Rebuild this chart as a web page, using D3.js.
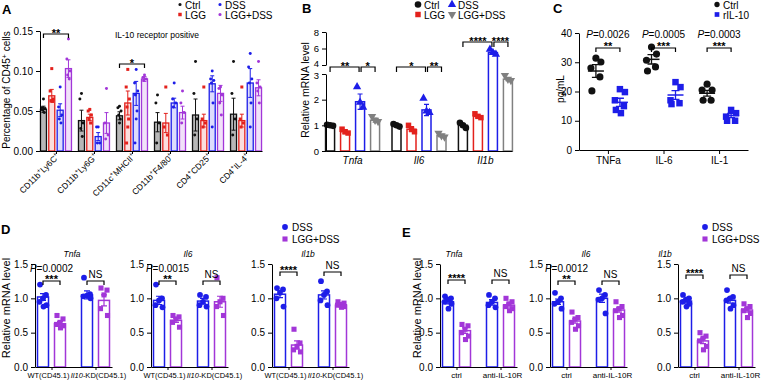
<!DOCTYPE html>
<html><head><meta charset="utf-8">
<script src="https://cdn.jsdelivr.net/npm/d3@7"></script>
<style>body{margin:0;background:#fff} text{font-family:Arial,"Liberation Sans",sans-serif}</style>
</head><body><script>
// ---------------- DATA ----------------
// Panel A
const aCategories = [
  [["CD11b",0],["+",1],["Ly6C",0],["+",1]],
  [["CD11b",0],["+",1],["Ly6G",0],["+",1]],
  [["CD11c",0],["+",1],["MHCII",0],["+",1]],
  [["CD11b",0],["+",1],["F4/80",0],["+",1]],
  [["CD4",0],["+",1],["CD25",0],["+",1]],
  [["CD4",0],["+",1],["IL-4",0],["+",1]]
];
const aSeries = ["Ctrl","LGG","DSS","LGG+DSS"];
const aCtrl   = [0.052,0.038,0.044,0.036,0.045,0.046];
const aLGG    = [0.069,0.042,0.060,0.035,0.038,0.038];
const aDSS    = [0.051,0.018,0.072,0.060,0.084,0.085];
const aLGGDSS = [0.103,0.035,0.090,0.048,0.072,0.079];
const aCtrlSem   = [0.004,0.013,0.005,0.012,0.020,0.020];
const aLGGSem    = [0.008,0.004,0.015,0.012,0.008,0.008];
const aDSSSem    = [0.008,0.005,0.015,0.006,0.010,0.018];
const aLGGDSSSem = [0.011,0.013,0.003,0.008,0.010,0.010];
const aCtrlPts   = [[0.065,0.054,0.053,0.051,0.048],[0.072,0.065,0.035,0.028,0.018],[0.056,0.054,0.050,0.045,0.040,0.035],[0.070,0.060,0.035,0.010],[0.112,0.072,0.040,0.020],[0.112,0.072,0.040,0.020]];
const aLGGPts    = [[0.103,0.075,0.065,0.063,0.062],[0.052,0.050,0.045,0.040,0.035],[0.102,0.080,0.065,0.055,0.040,0.030,0.010],[0.080,0.030,0.020],[0.080,0.040,0.035,0.030],[0.080,0.040,0.035,0.030]];
const aDSSPts    = [[0.080,0.055,0.045,0.040,0.035],[0.030,0.030,0.010,0.010],[0.102,0.085,0.075,0.070,0.050,0.040,0.010],[0.085,0.065,0.060,0.055],[0.100,0.090,0.088,0.085,0.060,0.030],[0.122,0.105,0.090,0.085,0.060,0.030]];
const aLGGDSSPts = [[0.140,0.115,0.100,0.095,0.090],[0.078,0.035,0.020,0.015],[0.095,0.092,0.090,0.088],[0.075,0.060,0.048,0.035],[0.080,0.078,0.070,0.060,0.045],[0.112,0.085,0.080,0.075,0.060]];
const aTicks = [0,0.05,0.10,0.15];

// Panel B
const bGenes = ["Tnfa","Il6","Il1b"];
const bSeries = ["Ctrl","LGG","DSS","LGG+DSS"];
const bCtrl   = [1.00,1.00,1.00];
const bLGG    = [0.75,0.85,1.35];
const bDSS    = [1.92,1.60,5.50];
const bLGGDSS = [1.20,0.60,2.80];
const bCtrlSem   = [0.03,0.04,0.06];
const bLGGSem    = [0.07,0.10,0.06];
const bDSSSem    = [0.30,0.22,0.20];
const bLGGDSSSem = [0.08,0.05,0.06];
const bCtrlPts   = [[1.02,1.00,0.98],[1.05,1.00,0.95],[1.10,1.00,0.90]];
const bLGGPts    = [[0.85,0.75,0.70],[1.00,0.85,0.75],[1.45,1.35,1.30]];
const bDSSPts    = [[2.50,1.90,1.70],[2.05,1.55,1.50],[5.90,5.50,5.30]];
const bLGGDSSPts = [[1.35,1.20,1.15],[0.70,0.60,0.55],[2.95,2.80,2.75]];
const bLowTicks = [0,1,2,3];
const bHighTicks = [4,6,8];

// Panel C
const cCytokines = ["TNFa","IL-6","IL-1"];
const cCtrlMean = [27.0,31.0,19.4];
const cRilMean  = [16.3,18.8,11.8];
const cCtrlSem  = [2.2,1.6,1.0];
const cRilSem   = [1.4,1.5,0.7];
const cCtrlPts  = [[31.4,30.1,28.0,25.0,20.2],[35.2,32.8,30.7,28.4,27.0],[22.5,20.5,20.5,17.0,17.0]];
const cRilPts   = [[20.8,19.8,17.0,15.0,13.7,12.6],[23.2,21.5,17.0,16.0,15.7],[13.7,12.6,11.4,10.0,10.0]];
const cPvals    = ["0.0026","0.0005","0.0003"];
const cStars    = ["**","***","***"];
const cTicks = [0,10,20,30,40];

// Panels D & E
const smallTicks = [0,0.5,1.0,1.5];
const dGroups = [[["WT(CD45.1)",0]],[["Il10",1],["-KD(CD45.1)",0]]];
const eGroups = [[["ctrl",0]],[["anti-IL-10R",0]]];
const dTitles = ["Tnfa","Il6","Il1b"];
const eTitles = ["Tnfa","Il6","Il1b"];
// D: [WT, KD]
const dDSSMean = [[1.02,1.05],[0.97,0.96],[1.06,1.05]];
const dLGGMean = [[0.63,0.97],[0.68,0.95],[0.32,0.90]];
const dDSSSem  = [[0.05,0.06],[0.06,0.04],[0.05,0.06]];
const dLGGSem  = [[0.03,0.08],[0.03,0.08],[0.06,0.02]];
const dDSSPts  = [
  [[1.20,1.05,1.00,0.95,0.90,0.88],[1.30,1.06,1.04,1.03,1.00]],
  [[1.20,1.00,0.97,0.90,0.87],[1.05,1.02,0.95,0.90,0.88]],
  [[1.15,1.13,1.08,1.00,0.88],[1.25,1.10,1.05,0.97,0.90]]];
const dLGGPts  = [
  [[0.75,0.70,0.65,0.62,0.60,0.57],[1.15,1.12,1.05,0.85,0.75]],
  [[0.75,0.73,0.70,0.65,0.58],[1.30,1.00,0.95,0.88,0.75]],
  [[0.55,0.35,0.30,0.25,0.22],[0.95,0.93,0.91,0.90,0.88,0.87]]];
const dPvals = ["0.0002","0.0015",null];
const dStars = ["***","**","****"];
// E: [ctrl, anti-IL-10R]
const eDSSMean = [[0.95,0.94],[0.95,1.00],[0.96,0.97]];
const eLGGMean = [[0.53,0.90],[0.67,0.83],[0.38,0.83]];
const eDSSSem  = [[0.03,0.04],[0.04,0.06],[0.03,0.04]];
const eLGGSem  = [[0.04,0.03],[0.03,0.03],[0.04,0.03]];
const eDSSPts  = [
  [[1.03,1.00,0.98,0.95,0.92,0.85],[1.05,1.00,0.95,0.90,0.87]],
  [[1.08,1.00,0.95,0.92,0.85],[1.12,1.05,1.00,0.98,0.78]],
  [[1.05,1.00,0.98,0.95,0.92,0.88],[1.12,1.02,1.00,0.97,0.90,0.85]]];
const eLGGPts  = [
  [[0.62,0.60,0.55,0.50,0.45,0.40],[1.00,0.95,0.92,0.88,0.85,0.82]],
  [[0.80,0.72,0.70,0.65,0.60,0.55],[0.95,0.88,0.85,0.82,0.75,0.72]],
  [[0.50,0.45,0.42,0.38,0.30,0.25],[0.92,0.88,0.85,0.82,0.78,0.72]]];
const ePvals = [null,"0.0012",null];
const eStars = ["****","**","****"];

// ---------------- DRAW ----------------
const W = 765, H = 382;
const FONT = "Arial, 'Liberation Sans', sans-serif";
const svg = d3.select("body").append("svg").attr("width", W).attr("height", H);
const BLACK = "#111", RED = "#e3211c", BLUE = "#1d1de8", PURPLE = "#a236d8", GRAY = "#808080";

function txt(g, x, y, s, o = {}) {
  const t = g.append("text").attr("x", x).attr("y", y)
    .attr("font-size", o.size || 10).attr("text-anchor", o.anchor || "start")
    .attr("fill", o.color || "#000").attr("font-family", FONT);
  if (o.weight) t.attr("font-weight", o.weight);
  if (o.italic) t.attr("font-style", "italic");
  t.text(s);
  return t;
}
function rich(t, parts, supSize) {
  let shifted = false;
  parts.forEach(([s, flag]) => {
    const ts = t.append("tspan").text(s);
    if (flag === 1 && supSize) { ts.attr("font-size", supSize).attr("dy", shifted ? 0 : -3.5); shifted = true; }
    else if (flag === 1 && !supSize) { ts.attr("font-style", "italic"); }
    else if (shifted) { ts.attr("dy", 3.5); shifted = false; }
  });
  return t;
}
function styleAxis(g, size) {
  g.attr("font-family", FONT).attr("font-size", size || 10);
  g.selectAll("path,line").attr("stroke", "#000").attr("stroke-width", 1);
  g.selectAll("text").attr("fill", "#000");
}
function bracket(g, x1, x2, y, drop) {
  g.append("path").attr("d", `M${x1},${y + drop}V${y}H${x2}V${y + drop}`)
    .attr("fill", "none").attr("stroke", "#000").attr("stroke-width", 1.2);
}
function marker(g, type, x, y, size, color, rot) {
  g.append("path").attr("d", d3.symbol().type(type).size(size)())
    .attr("transform", `translate(${x},${y})` + (rot ? ` rotate(${rot})` : ""))
    .attr("fill", color);
}
function errbar(g, x, y1, y2, cap, color, w) {
  g.append("path").attr("d", `M${x},${y1}V${y2}M${x - cap / 2},${y1}H${x + cap / 2}M${x - cap / 2},${y2}H${x + cap / 2}`)
    .attr("stroke", color).attr("stroke-width", w || 1.2).attr("fill", "none");
}
function stars(g, x, y, s) { return txt(g, x, y, s, { size: 11, anchor: "middle", weight: "bold" }); }
function pText(g, x, y, v, size) {
  const t = g.append("text").attr("x", x).attr("y", y).attr("text-anchor", "middle")
    .attr("font-size", size).attr("font-family", FONT);
  t.append("tspan").attr("font-style", "italic").text("P");
  t.append("tspan").text("=" + v);
}

// ======== Panel A ========
(function () {
  const g = svg.append("g");
  txt(g, 2, 14, "A", { size: 13, weight: "bold" });
  const x = d3.scalePoint().domain(d3.range(aCategories.length)).range([40, 262]).padding(0.42);
  const y = d3.scaleLinear().domain([0, 0.15]).range([151, 31]);
  const offs = [-12.5, -4.2, 4.2, 12.5];
  const means = [aCtrl, aLGG, aDSS, aLGGDSS];
  const sems = [aCtrlSem, aLGGSem, aDSSSem, aLGGDSSSem];
  const pts = [aCtrlPts, aLGGPts, aDSSPts, aLGGDSSPts];
  const cols = [BLACK, RED, BLUE, PURPLE];
  const jit = [0, -1.6, 1.6, -0.8, 0.8, 0, -1.2];
  means.forEach((arr, s) => {
    arr.forEach((m, i) => {
      const cx = x(i) + offs[s];
      g.append("rect").attr("x", cx - 3).attr("y", y(m)).attr("width", 6).attr("height", y(0) - y(m))
        .attr("fill", cols[s]).attr("fill-opacity", s === 0 ? 0.3 : 0.15)
        .attr("stroke", cols[s]).attr("stroke-width", 1.3);
      errbar(g, cx, y(m - sems[s][i]), y(m + sems[s][i]), 4, cols[s], 1);
      pts[s][i].forEach((v, k) => {
        if (s === 1) marker(g, d3.symbolSquare, cx + jit[k], y(v), 9, cols[s]);
        else marker(g, d3.symbolCircle, cx + jit[k], y(v), 7, cols[s]);
      });
    });
  });
  const ya = g.append("g").attr("transform", "translate(40,0)")
    .call(d3.axisLeft(y).tickValues(aTicks).tickFormat(d3.format(".2f")).tickSize(4).tickSizeOuter(0));
  styleAxis(ya, 10);
  const xa = g.append("g").attr("transform", "translate(0,151)")
    .call(d3.axisBottom(x).tickFormat("").tickSize(3).tickSizeOuter(0));
  styleAxis(xa);
  aCategories.forEach((parts, i) => {
    const t = g.append("text").attr("transform", `translate(${x(i) + 4},${157}) rotate(-45)`)
      .attr("text-anchor", "end").attr("font-size", 8.5).attr("font-family", FONT);
    rich(t, parts, 6);
  });
  const yl = g.append("text").attr("transform", "translate(10,90) rotate(-90)").attr("text-anchor", "middle")
    .attr("font-size", 10).attr("font-family", FONT);
  rich(yl, [["Percentage of CD45", 0], ["+", 1], [" cells", 0]], 7);
  txt(g, 157, 38, "IL-10 receptor positive", { size: 8.5, anchor: "middle" });
  bracket(g, x(0) + offs[0], x(0) + offs[3], 34, 4);
  stars(g, (x(0) + offs[0] + x(0) + offs[3]) / 2, 36.5, "**");
  bracket(g, x(2) + offs[0], x(2) + offs[3], 64, 4);
  stars(g, (x(2) + offs[0] + x(2) + offs[3]) / 2, 66.5, "*");
  const lg = [[180, 4.5, 0], [220, 4.5, 2], [180, 14.5, 1], [220, 14.5, 3]];
  lg.forEach(([lx, ly, s]) => {
    if (s === 1) marker(g, d3.symbolSquare, lx, ly, 12, cols[s]);
    else marker(g, d3.symbolCircle, lx, ly, 8, cols[s]);
    txt(g, lx + 5, ly + 4, aSeries[s], { size: 10 });
  });
})();

// ======== Panel B ========
(function () {
  const g = svg.append("g");
  txt(g, 302, 13, "B", { size: 13, weight: "bold" });
  const x = d3.scalePoint().domain(bGenes).range([326, 512]).padding(0.4);
  const y = d3.scaleLinear().domain([0, 3, 4, 8]).range([151, 74, 65, 32]);
  const yLow = d3.scaleLinear().domain([0, 3]).range([151, 74]);
  const yHigh = d3.scaleLinear().domain([4, 8]).range([65, 32]);
  const offs = [-22.5, -7.5, 7.5, 22.5];
  const means = [bCtrl, bLGG, bDSS, bLGGDSS];
  const sems = [bCtrlSem, bLGGSem, bDSSSem, bLGGDSSSem];
  const pts = [bCtrlPts, bLGGPts, bDSSPts, bLGGDSSPts];
  const cols = [BLACK, RED, BLUE, GRAY];
  const syms = [[d3.symbolCircle, 34, 0], [d3.symbolSquare, 30, 0], [d3.symbolTriangle, 30, 0], [d3.symbolTriangle, 30, 180]];
  const jit = [-3, 0, 3];
  means.forEach((arr, s) => {
    arr.forEach((m, i) => {
      const cx = x(bGenes[i]) + offs[s];
      g.append("rect").attr("x", cx - 4.5).attr("y", y(m)).attr("width", 9).attr("height", y(0) - y(m))
        .attr("fill", "#fff").attr("stroke", cols[s]).attr("stroke-width", 1.5);
      errbar(g, cx, y(m - sems[s][i]), y(m + sems[s][i]), 5, cols[s], 1.2);
      pts[s][i].forEach((v, k) => marker(g, syms[s][0], cx + jit[k], y(v), syms[s][1], cols[s], syms[s][2]));
    });
  });
  const ya1 = g.append("g").attr("transform", "translate(326,0)")
    .call(d3.axisLeft(yLow).tickValues(bLowTicks).tickFormat(d3.format("d")).tickSize(4).tickSizeOuter(0));
  styleAxis(ya1, 9.5);
  ya1.selectAll(".tick text").filter(d => d === 3).attr("y", 1.2);
  const ya2 = g.append("g").attr("transform", "translate(326,0)")
    .call(d3.axisLeft(yHigh).tickValues(bHighTicks).tickFormat(d3.format("d")).tickSize(4).tickSizeOuter(0));
  styleAxis(ya2, 9.5);
  ya2.selectAll(".tick text").filter(d => d === 4).attr("y", -1.2);
  const xa = g.append("g").attr("transform", "translate(0,151)")
    .call(d3.axisBottom(x).tickFormat("").tickSize(0).tickSizeOuter(0));
  styleAxis(xa);
  bGenes.forEach(gn => txt(g, x(gn), 164, gn, { size: 10, anchor: "middle", italic: true }));
  g.append("text").attr("transform", "translate(309,90) rotate(-90)").attr("text-anchor", "middle")
    .attr("font-size", 10.5).attr("font-family", FONT).text("Relative mRNA level");
  const sig = [[0, 67, "**", "*"], [1, 67, "*", "**"], [2, 42, "****", "****"]];
  sig.forEach(([i, by, s1, s2]) => {
    const c = x(bGenes[i]);
    bracket(g, c + offs[0], c + offs[2] - 1, by, 5);
    bracket(g, c + offs[2] + 1, c + offs[3], by, 5);
    stars(g, (c + offs[0] + c + offs[2]) / 2, by + 2.5, s1);
    stars(g, (c + offs[2] + c + offs[3]) / 2, by + 2.5, s2);
  });
  const lg = [[418, 4.5, 0], [452, 4.5, 2], [418, 14.5, 1], [452, 14.5, 3]];
  lg.forEach(([lx, ly, s]) => {
    marker(g, syms[s][0], lx, ly, syms[s][1], cols[s], syms[s][2]);
    txt(g, lx + 6, ly + 4, bSeries[s], { size: 10 });
  });
})();

// ======== Panel C ========
(function () {
  const g = svg.append("g");
  txt(g, 553, 13, "C", { size: 13, weight: "bold" });
  const x = d3.scalePoint().domain(cCytokines).range([579, 748]).padding(0.52);
  const y = d3.scaleLinear().domain([0, 40]).range([150, 33]);
  const jit = [0, 5, -5, 4, -4, 1];
  cCytokines.forEach((c, i) => {
    const c1 = x(c) - 12, c2 = x(c) + 12;
    cCtrlPts[i].forEach((v, k) => marker(g, d3.symbolCircle, c1 + jit[k], y(v), 40, BLACK));
    cRilPts[i].forEach((v, k) => marker(g, d3.symbolSquare, c2 + jit[k], y(v), 42, BLUE));
    [[c1, cCtrlMean[i], cCtrlSem[i], BLACK], [c2, cRilMean[i], cRilSem[i], BLUE]].forEach(([cx, m, se, col]) => {
      g.append("line").attr("x1", cx - 8).attr("x2", cx + 8).attr("y1", y(m)).attr("y2", y(m)).attr("stroke", col).attr("stroke-width", 1.5);
      errbar(g, cx, y(m - se), y(m + se), 8, col, 1.3);
    });
    pText(g, x(c), 38, cPvals[i], 10);
    bracket(g, c1, c2, 48, 4);
    stars(g, x(c), 49.5, cStars[i]);
  });
  const ya = g.append("g").attr("transform", "translate(579,0)")
    .call(d3.axisLeft(y).tickValues(cTicks).tickSize(4).tickSizeOuter(0));
  styleAxis(ya, 10);
  const xa = g.append("g").attr("transform", "translate(0,150)")
    .call(d3.axisBottom(x).tickSize(4).tickSizeOuter(0).tickPadding(3));
  styleAxis(xa, 10);
  g.append("text").attr("transform", "translate(564,89) rotate(-90)").attr("text-anchor", "middle")
    .attr("font-size", 10).attr("font-family", FONT).text("pg/mL");
  marker(g, d3.symbolCircle, 717, 4.5, 22, BLACK);
  txt(g, 723, 8.5, "Ctrl", { size: 10 });
  marker(g, d3.symbolSquare, 717, 14.5, 22, BLUE);
  txt(g, 723, 18.5, "rIL-10", { size: 10 });
})();

// ======== Panels D & E ========
function smallPanel(cfg) {
  const g = svg.append("g");
  const x = d3.scalePoint().domain([0, 1]).range([cfg.x0, cfg.x0 + 77]).padding(0.375);
  const y = d3.scaleLinear().domain([0, 1.5]).range([367, 264]);
  const off = [-8.5, 8.5];
  const jit = [-3, 3, 0, -3.5, 3.5, 0.5];
  [0, 1].forEach(gi => {
    [[cfg.dssMean, cfg.dssSem, cfg.dssPts, BLUE, 0], [cfg.lggMean, cfg.lggSem, cfg.lggPts, PURPLE, 1]].forEach(([mm, ss, pp, col, s]) => {
      const cx = x(gi) + off[s], m = mm[gi];
      g.append("rect").attr("x", cx - 5.5).attr("y", y(m)).attr("width", 11).attr("height", y(0) - y(m))
        .attr("fill", "#fff").attr("stroke", col).attr("stroke-width", 1.5);
      errbar(g, cx, y(m - ss[gi]), y(m + ss[gi]), 6, col, 1.2);
      pp[gi].forEach((v, k) => {
        if (s === 0) marker(g, d3.symbolCircle, cx + jit[k], y(v), 26, col);
        else marker(g, d3.symbolSquare, cx + jit[k], y(v), 26, col);
      });
    });
  });
  const ya = g.append("g").attr("transform", `translate(${cfg.x0},0)`)
    .call(d3.axisLeft(y).tickValues(smallTicks).tickFormat(d3.format(".1f")).tickSize(4).tickSizeOuter(0));
  styleAxis(ya, 10);
  const xa = g.append("g").attr("transform", "translate(0,367)")
    .call(d3.axisBottom(x).tickFormat("").tickSize(3).tickSizeOuter(0));
  styleAxis(xa);
  cfg.groups.forEach((parts, gi) => {
    const t = g.append("text").attr("x", x(gi) + cfg.labShift[gi]).attr("y", 378).attr("text-anchor", "middle")
      .attr("font-size", cfg.xlSize).attr("font-family", FONT);
    rich(t, parts, null);
  });
  txt(g, cfg.titleX, 257, cfg.title, { size: 8.5, anchor: "middle", italic: true });
  const by = cfg.by;
  bracket(g, x(0) + off[0], x(0) + off[1], by, 4);
  stars(g, x(0), by + 2, cfg.stars);
  if (cfg.p) pText(g, x(0), 272, cfg.p, 10);
  bracket(g, x(1) + off[0], x(1) + off[1], by, 4);
  txt(g, x(1), by - 3, "NS", { size: 10, anchor: "middle" });
  if (cfg.ylabel) {
    g.append("text").attr("transform", `translate(${cfg.ylabelX},308) rotate(-90)`).attr("text-anchor", "middle")
      .attr("font-size", 11).attr("font-family", FONT).text("Relative mRNA level");
  }
}
const dX0 = [35, 151, 272], dTitleX = [72, 188, 308], dBy = [281, 281, 272];
const eX0 = [440, 550, 678], eTitleX = [454, 586, 665], eBy = [280, 281, 275];
[0, 1, 2].forEach(i => {
  smallPanel({ x0: dX0[i], title: dTitles[i], titleX: dTitleX[i], groups: dGroups, xlSize: 7.5, labShift: [-3, 3],
    dssMean: dDSSMean[i], lggMean: dLGGMean[i], dssSem: dDSSSem[i], lggSem: dLGGSem[i],
    dssPts: dDSSPts[i], lggPts: dLGGPts[i], p: dPvals[i], stars: dStars[i], by: dBy[i],
    ylabel: i === 0, ylabelX: 10 });
  smallPanel({ x0: eX0[i], title: eTitles[i], titleX: eTitleX[i], groups: eGroups, xlSize: 8, labShift: [0, 2],
    dssMean: eDSSMean[i], lggMean: eLGGMean[i], dssSem: eDSSSem[i], lggSem: eLGGSem[i],
    dssPts: eDSSPts[i], lggPts: eLGGPts[i], p: ePvals[i], stars: eStars[i], by: eBy[i],
    ylabel: i === 0, ylabelX: 421 });
});
const lg = svg.append("g");
txt(lg, 1, 234, "D", { size: 13, weight: "bold" });
txt(lg, 402, 237, "E", { size: 13, weight: "bold" });
[285, 705].forEach(lx => {
  marker(lg, d3.symbolCircle, lx, 227, 26, BLUE);
  txt(lg, lx + 7, 231, "DSS", { size: 10 });
  marker(lg, d3.symbolSquare, lx, 239, 26, PURPLE);
  txt(lg, lx + 7, 243, "LGG+DSS", { size: 10 });
});
</script></body></html>
